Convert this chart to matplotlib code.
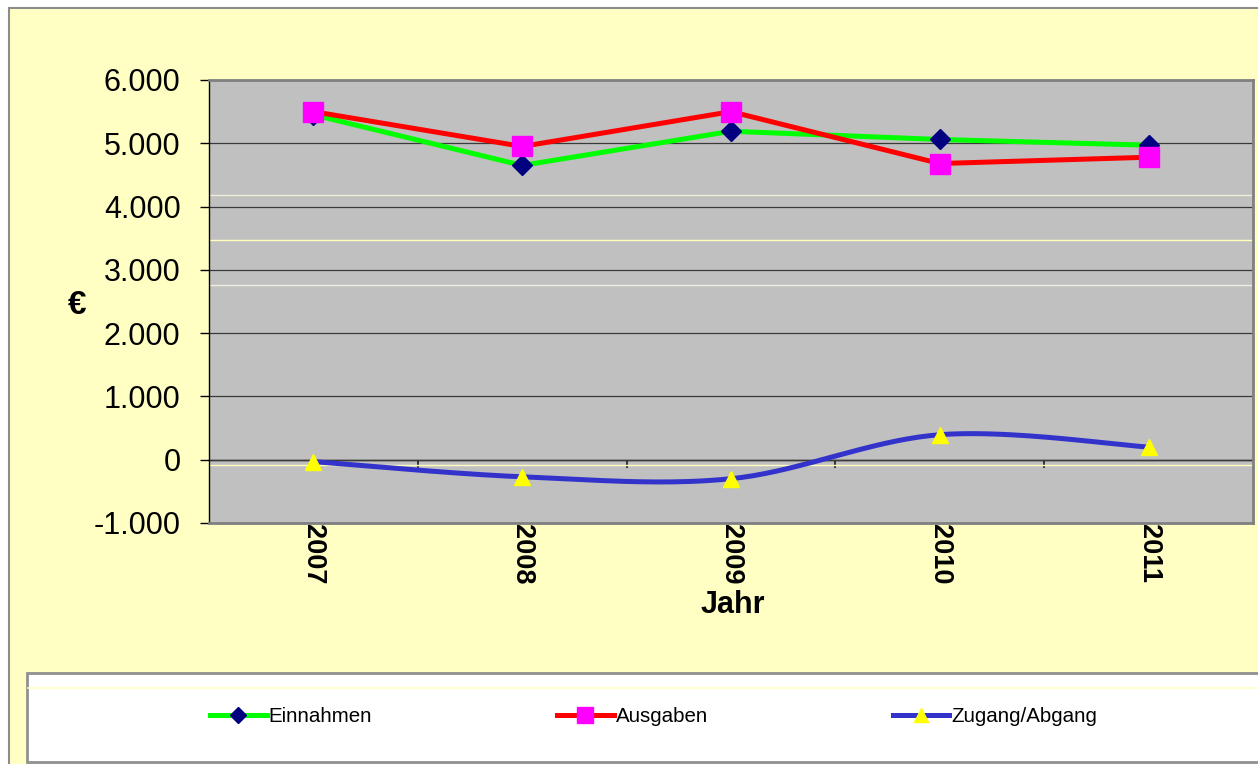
import numpy as np
import matplotlib.pyplot as plt
from matplotlib.patches import Rectangle
from matplotlib.lines import Line2D
from matplotlib.ticker import FuncFormatter

plt.rcParams['font.family'] = ['Liberation Sans', 'DejaVu Sans']

# Daten
jahre = ['2007', '2008', '2009', '2010', '2011']
einnahmen = [5450, 4650, 5190, 5060, 4970]
ausgaben = [5500, 4950, 5500, 4680, 4780]
zugang = [-30, -270, -300, 395, 200]
y_ticks = [-1000, 0, 1000, 2000, 3000, 4000, 5000, 6000]

W, H = 1258, 764


def fx(px):
    return px / W


def fy(py):
    return 1 - py / H


def glatt(xs, ys, n=40):
    # Excel-artige Glättung (Bezier, Catmull-Rom Kontrollpunkte)
    pts = np.column_stack([xs, ys]).astype(float)
    ext = np.vstack([pts[0], pts, pts[-1]])
    teile = []
    t = np.linspace(0, 1, n)[:, None]
    for i in range(len(pts) - 1):
        p0, p1, p2, p3 = ext[i], ext[i + 1], ext[i + 2], ext[i + 3]
        c1 = p1 + (p2 - p0) / 6
        c2 = p2 - (p3 - p1) / 6
        seg = (1 - t) ** 3 * p1 + 3 * (1 - t) ** 2 * t * c1 + 3 * (1 - t) * t ** 2 * c2 + t ** 3 * p2
        teile.append(seg if i == 0 else seg[1:])
    return np.vstack(teile)


fig = plt.figure(figsize=(W / 100, H / 100), dpi=100)
fig.patch.set_facecolor('white')

# äußerer Rahmen
fig.patches.append(Rectangle((fx(9), fy(800)), 1.1, fy(8) - fy(800), transform=fig.transFigure,
                             facecolor='#FFFFC4', edgecolor='#8C8C8C', lw=1.5, zorder=-10))

ax = fig.add_axes([fx(209), fy(523), fx(1253 - 209), (523 - 80) / H])
ax.set_facecolor('#C0C0C0')

x = np.arange(len(jahre))

ax.set_xlim(-0.5, len(jahre) - 0.5)
ax.set_ylim(-1000, 6000)
ax.set_yticks(y_ticks)
ax.yaxis.set_major_formatter(FuncFormatter(lambda v, p: f'{int(v):,}'.replace(',', '.')))
ax.yaxis.grid(True, color='#3A3A3A', lw=0.9)
ax.set_axisbelow(True)

# helle Störlinien wie im Original
for wert, farbe in [(4187, '#EDEDD8'), (3476, '#FFFFC0'), (2765, '#EDEDE0'), (-80, '#FFFFC0')]:
    ax.axhline(wert, color=farbe, lw=1, zorder=0.5)

ax.tick_params(axis='y', direction='out', length=6.5, width=1, pad=14, labelsize=22, colors='black')
ax.set_xticks(x, jahre, rotation=-90, fontweight='bold', fontsize=19.5)
ax.tick_params(axis='x', length=0, pad=1)

for s in ['top', 'right', 'bottom']:
    ax.spines[s].set_color('#808080')
    ax.spines[s].set_linewidth(2)
ax.spines['left'].set_color('black')
ax.spines['left'].set_linewidth(1)

# Rubrikenachse bei 0 mit Teilstrichen zwischen den Jahren
sec = ax.secondary_xaxis(0, transform=ax.transData)
sec.set_xticks(x[:-1] + 0.5, [''] * (len(jahre) - 1))
sec.tick_params(direction='out', length=6, width=1.2, color='#202020')
sec.spines['bottom'].set_color('black')
sec.spines['bottom'].set_linewidth(1)

ax.plot(x, einnahmen, color='#00FF00', lw=3.6, marker='D', ms=10,
        markerfacecolor='#000080', markeredgecolor='#000080', zorder=3)
ax.plot(x, ausgaben, color='#FF0000', lw=3.6, marker='s', ms=14.5,
        markerfacecolor='#FF00FF', markeredgecolor='#FF00FF', zorder=4)
kurve = glatt(x, zugang)
ax.plot(kurve[:, 0], kurve[:, 1], color='#3333CC', lw=3.6, zorder=5)
ax.plot(x, zugang, ls='none', marker='^', ms=11,
        markerfacecolor='#FFFF00', markeredgecolor='#FFFF00', zorder=6)

ax.set_ylabel('€', rotation=0, fontweight='bold', fontsize=24, ha='center', va='center')
ax.yaxis.set_label_coords((77 - 209) / 1044, (523 - 305) / 443)
fig.text(fx(733), fy(605), 'Jahr', fontweight='bold', fontsize=22, ha='center', va='center')

# Legendenkasten
fig.patches.append(Rectangle((fx(27), fy(762)), 1.1, fy(673) - fy(762), transform=fig.transFigure,
                             facecolor='white', edgecolor='#909090', lw=2, zorder=-5))
fig.lines.append(Line2D([fx(28), 1.0], [fy(688), fy(688)], transform=fig.transFigure,
                        color='#FFFFC8', lw=1.2, zorder=-4))

griffe = [
    Line2D([], [], color='#00FF00', lw=3.6, marker='D', ms=8,
           markerfacecolor='#000080', markeredgecolor='#000080'),
    Line2D([], [], color='#FF0000', lw=3.6, marker='s', ms=11,
           markerfacecolor='#FF00FF', markeredgecolor='#FF00FF'),
    Line2D([], [], color='#3333CC', lw=3.6, marker='^', ms=10,
           markerfacecolor='#FFFF00', markeredgecolor='#FFFF00'),
]
fig.legend(griffe, ['Einnahmen', 'Ausgaben', 'Zugang/Abgang'], loc='center left',
           bbox_to_anchor=(fx(210), fy(717)), ncol=3, frameon=False, fontsize=14.8,
           handlelength=2.75, handletextpad=0.1, columnspacing=9.0, borderpad=0,
           borderaxespad=0)

fig.savefig('out.png', dpi=100, facecolor=fig.get_facecolor())
